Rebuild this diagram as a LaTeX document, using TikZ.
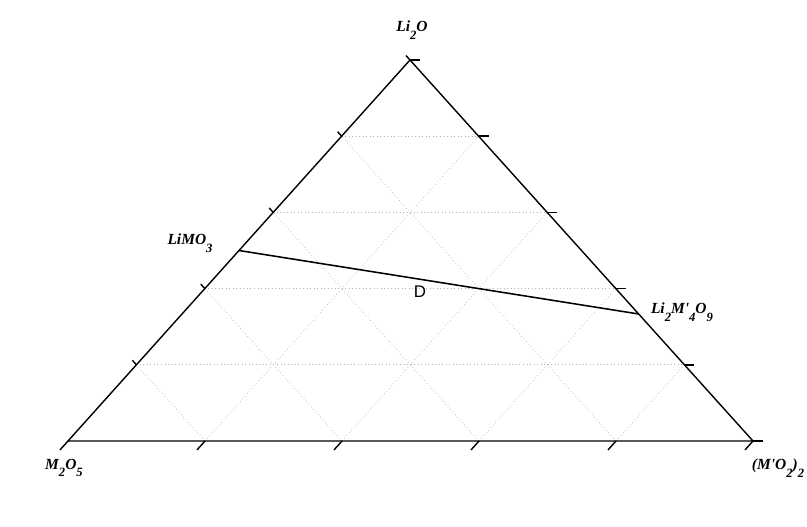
\documentclass[tikz,border=0pt]{standalone}
\usepackage{fontspec}
\setmainfont{Liberation Serif}
\newfontfamily\dfont{Liberation Sans}
\newcommand{\lowidx}[1]{\raisebox{-1.1ex}{\small #1}}
\newcommand{\comp}[1]{{\bfseries\itshape #1}}

\begin{document}
\begin{tikzpicture}[x=1cm,y=1cm,
  gridline/.style={gray!60,dotted,line width=0.5pt},
  edge/.style={line width=1pt},
  tickmark/.style={line width=1pt},
  complabel/.style={font=\fontsize{11}{13}\selectfont}]
\useasboundingbox (0,0) rectangle (20.175,13.15);

\coordinate (A) at (1.7,2.125);
\coordinate (B) at (18.825,2.125);
\coordinate (C) at (10.25,11.65);

% grid
\draw[gridline] (3.41,4.03) -- (17.11,4.03);
\draw[gridline] (5.12,5.935) -- (15.395,5.935);
\draw[gridline] (6.83,7.84) -- (13.68,7.84);
\draw[gridline] (8.54,9.745) -- (11.965,9.745);

\draw[gridline] (5.125,2.125) -- (11.965,9.745);
\draw[gridline] (8.55,2.125) -- (13.68,7.84);
\draw[gridline] (11.975,2.125) -- (15.395,5.935);
\draw[gridline] (15.4,2.125) -- (17.11,4.03);

\draw[gridline] (5.125,2.125) -- (3.41,4.03);
\draw[gridline] (8.55,2.125) -- (5.12,5.935);
\draw[gridline] (11.975,2.125) -- (6.83,7.84);
\draw[gridline] (15.4,2.125) -- (8.54,9.745);

% triangle
\draw[edge] (A) -- (B) -- (C) -- cycle;

% ticks
\draw[tickmark] (1.7,2.125) -- ++(-0.2,-0.223);
\draw[tickmark] (5.125,2.125) -- ++(-0.2,-0.223);
\draw[tickmark] (8.55,2.125) -- ++(-0.2,-0.223);
\draw[tickmark] (11.975,2.125) -- ++(-0.2,-0.223);
\draw[tickmark] (15.4,2.125) -- ++(-0.2,-0.223);
\draw[tickmark] (18.825,2.125) -- ++(-0.2,-0.223);

\draw[tickmark] (3.41,4.03) -- ++(-0.1,0.112);
\draw[tickmark] (5.12,5.935) -- ++(-0.1,0.112);
\draw[tickmark] (6.83,7.84) -- ++(-0.1,0.112);
\draw[tickmark] (8.54,9.745) -- ++(-0.1,0.112);
\draw[tickmark] (10.25,11.65) -- ++(-0.1,0.112);

\draw[tickmark] (18.825,2.125) -- ++(0.25,0);
\draw[tickmark] (17.11,4.03) -- ++(0.25,0);
\draw[tickmark] (15.395,5.935) -- ++(0.25,0);
\draw[tickmark] (13.68,7.84) -- ++(0.25,0);
\draw[tickmark] (11.965,9.745) -- ++(0.25,0);
\draw[tickmark] (10.25,11.65) -- ++(0.25,0);

% tie line
\coordinate (limo) at (5.975,6.8875);
\coordinate (limnine) at (15.967,5.3);
\draw[line width=1.1pt] (limo) -- (limnine);

\node[complabel] (lio) at (10.3,12.4) {\comp{Li\lowidx{2}O}};
\node[complabel] (mo) at (1.6,1.45) {\comp{M\lowidx{2}O\lowidx{5}}};
\node[complabel] (mpo) at (19.45,1.45) {\comp{(M\textquotesingle O\lowidx{2})\lowidx{2}}};
\node[complabel] (limolab) at (4.75,7.07) {\comp{LiMO\lowidx{3}}};
\node[complabel] (linine) at (17.05,5.35) {\comp{Li\lowidx{2}M\textquotesingle\lowidx{4}O\lowidx{9}}};
\node[font=\dfont\fontsize{12}{14}\selectfont] (dpt) at (10.5,5.85) {D};
\end{tikzpicture}
\end{document}
